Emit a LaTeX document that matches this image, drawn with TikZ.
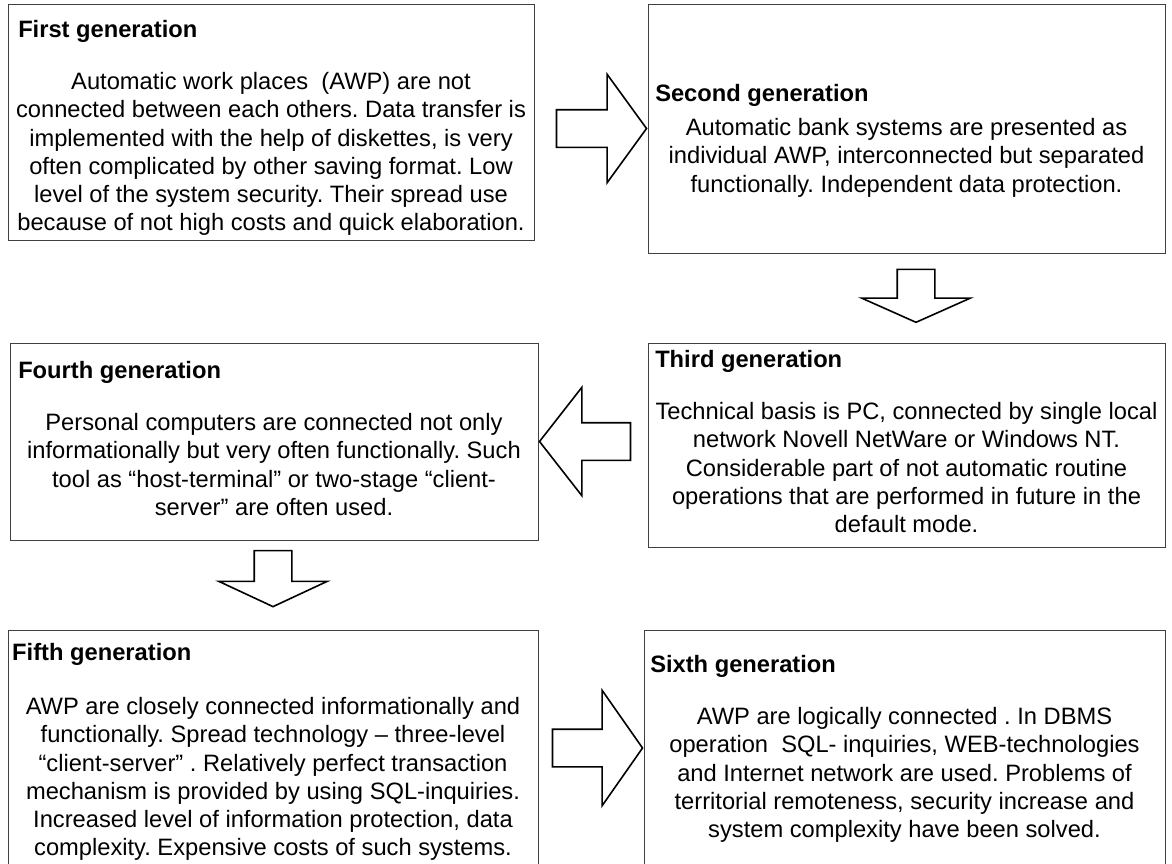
\documentclass[tikz,border=0pt]{standalone}
\usepackage{fontspec}
\setmainfont{Liberation Sans}
\usetikzlibrary{shapes.arrows}
\tikzset{every picture/.style={line width=0.75pt}}
\frenchspacing

\begin{document}
\begin{tikzpicture}[x=0.5pt,y=-0.5pt,
  genbox/.style={draw=black!75, line width=0.5pt, rectangle, inner sep=0pt},
  gentitle/.style={anchor=west, inner sep=0pt, font=\fontsize{11.85}{14.15}\selectfont\bfseries},
  gentext/.style={anchor=north, inner sep=0pt, align=center, font=\fontsize{11.85}{14.15}\selectfont},
  blockarrow/.style={draw, single arrow, line width=0.8pt, inner xsep=0pt, inner ysep=9pt, minimum width=53.5pt, single arrow head extend=17.75pt}]
\useasboundingbox (0,0) rectangle (1172,863);

%Shape: Rectangle [first generation]
\node [genbox, minimum width=263pt, minimum height=118pt] (g1) at (271,122) {};
%Shape: Rectangle [second generation]
\node [genbox, minimum width=258.5pt, minimum height=124.5pt] (g2) at (906.5,128.5) {};
%Shape: Rectangle [third generation]
\node [genbox, minimum width=258.5pt, minimum height=102pt] (g3) at (906.5,445) {};
%Shape: Rectangle [fourth generation]
\node [genbox, minimum width=264pt, minimum height=98.5pt] (g4) at (274,441.5) {};
%Shape: Rectangle [fifth generation]
\node [genbox, minimum width=265pt, minimum height=119pt] (g5) at (273,749) {};
%Shape: Rectangle [sixth generation]
\node [genbox, minimum width=260.5pt, minimum height=118pt] (g6) at (904.5,748) {};

%Block Arrows
\node [blockarrow, minimum height=45pt, single arrow tip angle=108, anchor=tip] (a12) at (g2.west) {};
\node [blockarrow, rotate=-90, minimum height=26.5pt, single arrow tip angle=132, anchor=tail] (a23) at ([xshift=4.75pt,yshift=-7.5pt]g2.south) {};
\node [blockarrow, rotate=180, minimum height=45.5pt, single arrow tip angle=104, anchor=tip] (a34) at (g4.east) {};
\node [blockarrow, rotate=-90, minimum height=28pt, single arrow tip angle=130, anchor=tip] (a45) at ([yshift=11pt]g5.north) {};
\node [blockarrow, minimum height=45pt, minimum width=57pt, single arrow head extend=19.5pt, single arrow tip angle=110, anchor=tip] (a56) at (g6.west) {};

% Text Node
\node [gentitle] (t1) at ([xshift=5pt,yshift=-14pt]g1.north west) {First generation};
% Text Node
\node [gentext] (b1) at ([yshift=-34pt]g1.north) {Automatic work places~ (AWP) are not\\
connected between each others. Data transfer is\\
implemented with the help of diskettes, is very\\
often complicated by other saving format. Low\\
level of the system security. Their spread use\\
because of not high costs and quick elaboration.};
% Text Node
\node [gentitle] (t2) at ([xshift=3.5pt,yshift=-46pt]g2.north west) {Second generation};
% Text Node
\node [gentext] (b2) at ([yshift=-57pt]g2.north) {Automatic bank systems are presented as\\
individual AWP, interconnected but separated\\
functionally. Independent data protection.};
% Text Node
\node [gentitle] (t3) at ([xshift=3.5pt,yshift=-9.5pt]g3.north west) {Third generation};
% Text Node
\node [gentext] (b3) at ([yshift=-29.5pt]g3.north) {Technical basis is PC, connected by single local\\
network Novell NetWare or Windows NT.\\
Considerable part of not automatic routine\\
operations that are performed in future in the\\
default mode.};
% Text Node
\node [gentitle] (t4) at ([xshift=4pt,yshift=-15pt]g4.north west) {Fourth generation};
% Text Node
\node [gentext] (b4) at ([yshift=-35pt]g4.north) {Personal computers are connected not only\\
informationally but very often functionally. Such\\
tool as “host-terminal” or two-stage “client-\\
server” are often used.};
% Text Node
\node [gentitle] (t5) at ([xshift=2pt,yshift=-12.5pt]g5.north west) {Fifth generation};
% Text Node
\node [gentext] (b5) at ([yshift=-33.5pt]g5.north) {AWP are closely connected informationally and\\
functionally. Spread technology – three-level\\
“client-server” . Relatively perfect transaction\\
mechanism is provided by using SQL-inquiries.\\
Increased level of information protection, data\\
complexity. Expensive costs of such systems.};
% Text Node
\node [gentitle] (t6) at ([xshift=3pt,yshift=-18.5pt]g6.north west) {Sixth generation};
% Text Node
\node [gentext] (b6) at ([yshift=-38.5pt]g6.north) {AWP are logically connected . In DBMS\\
operation~ SQL- inquiries, WEB-technologies\\
and Internet network are used. Problems of\\
territorial remoteness, security increase and\\
system complexity have been solved.};

\end{tikzpicture}
\end{document}
